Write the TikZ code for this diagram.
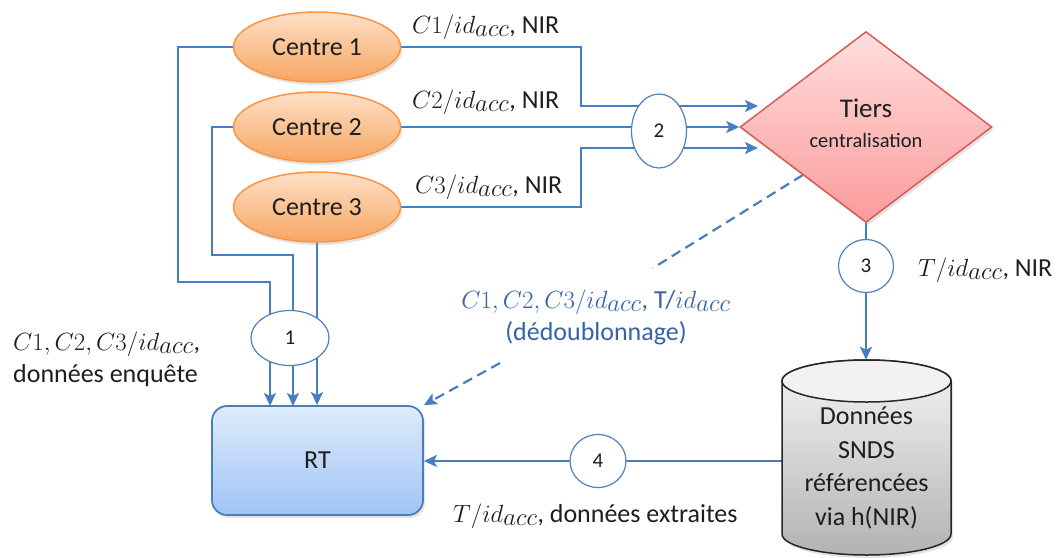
\documentclass[tikz,border=0pt]{standalone}
\usepackage{fontspec}
\setmainfont{Carlito}
\DeclareMathSizes{26}{30}{24}{18}
\usetikzlibrary{shapes.geometric,arrows.meta,shadows}
\definecolor{lnblue}{RGB}{70,126,192}
\definecolor{cirblue}{RGB}{79,129,189}
\definecolor{orgT}{RGB}{253,224,198}
\definecolor{orgB}{RGB}{248,165,98}
\definecolor{orgD}{RGB}{247,150,70}
\definecolor{pinkT}{RGB}{255,222,222}
\definecolor{pinkB}{RGB}{250,155,155}
\definecolor{redD}{RGB}{214,92,90}
\definecolor{rtT}{RGB}{222,235,252}
\definecolor{rtB}{RGB}{160,196,245}
\definecolor{rtD}{RGB}{74,126,187}
\definecolor{txt}{RGB}{30,30,30}
\definecolor{dtxt}{RGB}{52,100,165}
\pgfdeclarelayer{bg}
\pgfsetlayers{bg,main}
\begin{document}
\begin{tikzpicture}[x=1pt,y=-1pt,
  every node/.style={text=txt},
  shd/.style={drop shadow={opacity=0.22,shadow xshift=2pt,shadow yshift=-3pt}},
  centrebox/.style={ellipse,draw=orgD,line width=1.5pt,top color=orgT,bottom color=orgB,
    minimum width=167pt,minimum height=70pt,inner sep=0pt,font=\fontsize{26}{31}\selectfont,shd},
  numcirc/.style={ellipse,draw=cirblue,line width=1.2pt,fill=white,inner sep=0pt,
    font=\fontsize{21}{25}\selectfont},
  lbl/.style={font=\fontsize{26}{31}\selectfont,inner sep=0pt},
  conn/.style={draw=lnblue,line width=2.2pt},
  tip/.style={-{Stealth[length=13pt,width=12pt,inset=3pt]}},
  dconn/.style={conn,dash pattern=on 10pt off 6pt}]
\useasboundingbox (0,0) rectangle (1064,557);

% Centres
\node[centrebox] (c1) at (317,47) {Centre 1};
\node[centrebox] (c2) at (317,127) {Centre 2};
\node[centrebox] (c3) at (317,207) {Centre 3};

% Tiers
\node[diamond,draw=redD,line width=1.5pt,top color=pinkT,bottom color=pinkB,
  minimum width=252pt,minimum height=191pt,inner sep=0pt,shape aspect=1.32,shd] (tiers) at (866,127) {};
\node[lbl,anchor=base,font=\fontsize{27}{32}\selectfont] (tiersA) at (866,117) {Tiers};
\node[font=\fontsize{20.5}{24}\selectfont,inner sep=0pt,anchor=base] (tiersB) at (866,147) {centralisation};

% RT
\node[rectangle,rounded corners=15pt,draw=rtD,line width=1.8pt,top color=rtT,bottom color=rtB,
  minimum width=211pt,minimum height=109pt,inner sep=0pt,font=\fontsize{26}{31}\selectfont,shd] (rt) at (317.5,460.5) {RT};

% Cylinder
\path[draw=black!85,line width=1.5pt,top color=black!4,bottom color=black!30,shd]
  (782,381) -- (782,534) arc[start angle=180,end angle=360,x radius=84.5pt,y radius=21pt]
  -- (951,381) arc[start angle=0,end angle=180,x radius=84.5pt,y radius=21pt] -- cycle;
\draw[draw=black!85,line width=1.5pt,fill=black!5] (866.5,381) ellipse [x radius=84.5pt,y radius=21pt];
\node[rectangle,minimum width=169pt,minimum height=195pt,inner sep=0pt] (db) at (866.5,457.5) {};
\node[lbl,align=center,font=\fontsize{26}{33.5}\selectfont] (dbtext) at (866.5,468) {Données\\SNDS\\référencées\\via h(NIR)};

% number circles
\node[numcirc,minimum width=55pt,minimum height=74pt] (n2) at (659,131) {2};
\node[numcirc,minimum width=78pt,minimum height=55pt] (n1) at (290,338) {1};
\node[numcirc,minimum width=55pt,minimum height=53pt] (n3) at (866,266) {3};
\node[numcirc,minimum width=56pt,minimum height=53pt] (n4) at (598,461) {4};

% arrival coordinates
\coordinate (tin1) at (758,106);
\coordinate (tin3) at (758,148);
\coordinate (r1) at (270,406);
\coordinate (r2) at (293,406);
\coordinate (d1) at (653,268);
\coordinate (d2) at (500,363);

\begin{pgfonlayer}{bg}
\draw[conn,tip] (c1.east) -- ++(180,0) |- (tin1);
\draw[conn,tip] (c2.east) -- (tiers.west);
\draw[conn,tip] (c3.east) -- ++(180,0) |- (tin3);
\draw[conn,tip] (c1.west) -| (178,282) -| (r1);
\draw[conn,tip] (c2.west) -| (212,255) -| (r2);
\draw[conn,tip] (c3.south) -- (c3.south |- rt.north);
\draw[conn,tip] (tiers.south) -- (tiers.south |- db.north);
\draw[conn,tip] (db.west |- n4.east) -- (rt.east |- n4.west);
\end{pgfonlayer}
\draw[dconn] (tiers.south west) -- (d1);
\draw[dconn,tip] (d2) -- (rt.north east);

% labels
\node[lbl,anchor=base west] (l1) at (412,33) {$C1/id_{acc}$, NIR};
\node[lbl,anchor=base west] (l2) at (412,108) {$C2/id_{acc}$, NIR};
\node[lbl,anchor=base west] (l3) at (415,193) {$C3/id_{acc}$, NIR};
\node[lbl,anchor=base west] (lT) at (918,276) {$T/id_{acc}$, NIR};
\node[lbl,anchor=base west] (lL1) at (13,350) {$C1,C2,C3/id_{acc}$,};
\node[lbl,anchor=base west] (lL2) at (13,382) {données enquête};
\node[lbl,anchor=base,text=dtxt] (lD1) at (596,308) {$C1,C2,C3/id_{acc}$, T/$id_{acc}$};
\node[lbl,anchor=base,text=dtxt] (lD2) at (596,340) {(dédoublonnage)};
\node[lbl,anchor=base west] (lB) at (453,522) {$T/id_{acc}$, données extraites};
\end{tikzpicture}
\end{document}
